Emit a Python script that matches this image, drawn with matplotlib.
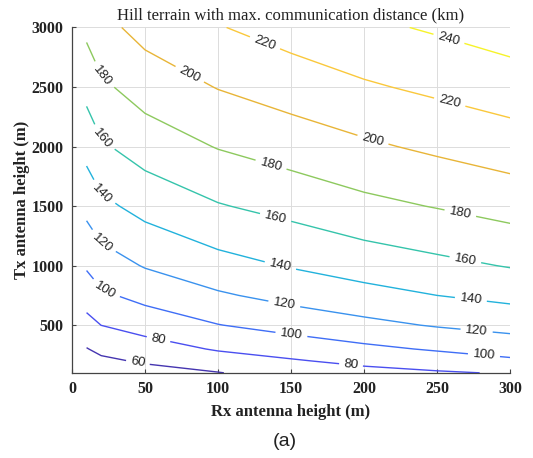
import numpy as np
import matplotlib
matplotlib.use('Agg')
import matplotlib.pyplot as plt

# receiver / transmitter antenna heights (m)
rx_height = [10, 20, 50, 100, 150, 200, 250, 300]
tx_height = [100, 200, 300, 500, 750, 1000, 1500, 2000, 2500, 3000]

# max communication distance (km), one row per Tx height
dist_100 = [44.8, 48.7, 53.3, 59.3, 68.0, 73.9, 77.9, 81.5]
dist_200 = [52.0, 56.5, 62.2, 70.8, 78.2, 84.8, 90.4, 96.9]
dist_300 = [59.2, 64.4, 71.1, 81.8, 88.4, 95.7, 102.0, 107.7]
dist_500 = [73.6, 80.1, 87.9, 99.4, 107.4, 114.9, 121.5, 126.8]
dist_750 = [88.8, 96.7, 106.1, 117.5, 126.3, 133.3, 140.0, 145.3]
dist_1000 = [102.2, 110.5, 121.3, 133.1, 141.3, 148.9, 155.1, 161.1]
dist_1500 = [125.8, 135.2, 146.7, 158.7, 166.4, 174.9, 181.0, 187.7]
dist_2000 = [146.9, 157.4, 169.0, 181.0, 189.1, 196.8, 203.8, 210.3]
dist_2500 = [166.3, 176.4, 188.7, 200.8, 209.1, 217.6, 224.0, 230.4]
dist_3000 = [184.6, 194.0, 206.8, 218.9, 228.3, 236.0, 242.4, 249.4]

levels = [60, 80, 100, 120, 140, 160, 180, 200, 220, 240]
level_colors = ['#4535b0', '#4a4ff0', '#3f6ef6', '#3a92ee', '#22b2dc',
                '#35c4ab', '#8dc95e', '#e8b538', '#fac83c', '#f6f32a']

# where the inline labels sit
label_pos = [(45, 175), (59, 366), (191, 156),
             (22.6, 792), (150, 395), (282, 232),
             (20.3, 1185), (145, 652), (277, 442),
             (20.3, 1597), (142.6, 994), (273, 700),
             (20.3, 2059), (139, 1381), (269, 1025),
             (20.3, 2585), (135.7, 1820), (265.5, 1414),
             (80, 2591), (205.3, 2019),
             (132, 2866), (258, 2339),
             (258, 2899)]

Z = np.array([dist_100, dist_200, dist_300, dist_500, dist_750,
              dist_1000, dist_1500, dist_2000, dist_2500, dist_3000])
X, Y = np.meshgrid(rx_height, tx_height)

fig = plt.figure(figsize=(5.33, 4.58), dpi=100)
ax = fig.add_axes([0.135, 0.186, 0.822, 0.754])

cs = ax.contour(X, Y, Z, levels=levels, colors=level_colors, linewidths=1.0)
lbls = ax.clabel(cs, fmt='%d', fontsize=9.5, inline=True, inline_spacing=4,
                 manual=label_pos)
for t in lbls:
    t.set_fontfamily('Liberation Sans')
    t.set_color('#222222')

ax.set_xlim(0, 300)
ax.set_ylim(100, 3000)
ax.set_xticks([0, 50, 100, 150, 200, 250, 300])
ax.set_yticks([500, 1000, 1500, 2000, 2500, 3000])
ax.grid(True, color='#dcdcdc', linewidth=0.7)
ax.set_axisbelow(True)
for side in ['top', 'right']:
    ax.spines[side].set_visible(False)
for side in ['left', 'bottom']:
    ax.spines[side].set_color('#444444')
    ax.spines[side].set_linewidth(0.9)
ax.tick_params(direction='in', length=3, width=0.8, color='#444444', pad=6)
for t in ax.get_xticklabels() + ax.get_yticklabels():
    t.set_fontfamily('Liberation Serif')
    t.set_fontweight('bold')
    t.set_fontsize(11.5)
    t.set_color('#222222')

ax.set_title('Hill terrain with max. communication distance (km)',
             fontfamily='Liberation Serif', fontsize=12, color='#222222', pad=6)
ax.set_xlabel('Rx antenna height (m)', fontfamily='Liberation Serif',
              fontweight='bold', fontsize=12, color='#222222', labelpad=5)
ax.set_ylabel('Tx antenna height (m)', fontfamily='Liberation Serif',
              fontweight='bold', fontsize=12, color='#222222', labelpad=1)

fig.text(0.535, 0.035, '(a)', fontfamily='Liberation Sans', fontsize=14,
         color='#222222', ha='center', va='center')

fig.savefig('out.png', dpi=100)
